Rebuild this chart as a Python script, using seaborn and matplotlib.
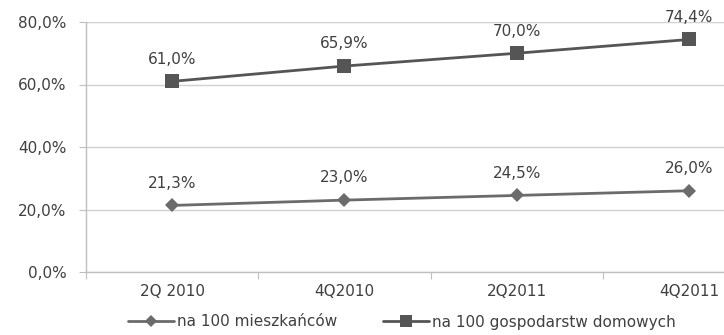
import seaborn as sns
import pandas as pd
import matplotlib.pyplot as plt

# dane
kwartaly = ["2Q 2010", "4Q2010", "2Q2011", "4Q2011"]
mieszkancy = [21.3, 23.0, 24.5, 26.0]
gospodarstwa = [61.0, 65.9, 70.0, 74.4]
seria_1 = "na 100 mieszkańców"
seria_2 = "na 100 gospodarstw domowych"

df = pd.DataFrame({
    "kwartal": kwartaly * 2,
    "wartosc": mieszkancy + gospodarstwa,
    "seria": [seria_1] * 4 + [seria_2] * 4,
})
df["poz"] = list(range(4)) * 2

sns.set_style("white")
plt.rcParams["font.family"] = ["DejaVu Sans"]
tekst = "#404040"
fs = 11

fig = plt.figure(figsize=(7.24, 3.35), dpi=100)
ax = fig.add_axes([86 / 724, 63 / 335, 689 / 724, 250 / 335])

sns.lineplot(
    data=df, x="poz", y="wartosc", hue="seria", style="seria",
    markers={seria_1: "D", seria_2: "s"}, dashes=False,
    palette={seria_1: "#6b6b6b", seria_2: "#555555"},
    linewidth=2, markersize=10, markeredgewidth=0, ax=ax, legend=True,
)
# romb nieco mniejszy
for line in ax.lines:
    if line.get_marker() == "D":
        line.set_markersize(7.5)

for s in [mieszkancy, gospodarstwa]:
    for i, v in enumerate(s):
        ax.annotate(f"{v:.1f}%".replace(".", ","), (i, v), xytext=(0, 16),
                    textcoords="offset points", ha="center", va="center",
                    fontsize=fs, color=tekst)

ax.set_ylim(0, 80)
ax.set_yticks([0, 20, 40, 60, 80])
ax.set_yticklabels([f"{v:.1f}%".replace(".", ",") for v in [0, 20, 40, 60, 80]],
                   fontsize=fs, color=tekst)
ax.set_xlim(-0.5, 3.5)
ax.set_xticks([-0.5, 0.5, 1.5, 2.5, 3.5])
ax.set_xticklabels([])
ax.set_xticks(range(4), minor=True)
ax.set_xticklabels(kwartaly, minor=True, fontsize=fs, color=tekst)
ax.tick_params(axis="x", which="major", length=5, color="#bfbfbf", direction="out", bottom=True)
ax.tick_params(axis="x", which="minor", length=0, pad=9)
ax.tick_params(axis="y", length=5, color="#bfbfbf", direction="out", left=True, pad=9)

ax.yaxis.grid(True, color="#d0d0d0", linewidth=1)
ax.set_axisbelow(True)
for k in ["top", "right"]:
    ax.spines[k].set_visible(False)
for k in ["left", "bottom"]:
    ax.spines[k].set_color("#bfbfbf")
    ax.spines[k].set_linewidth(1)
ax.set_xlabel("")
ax.set_ylabel("")

h, l = ax.get_legend_handles_labels()
ax.get_legend().remove()
fig.legend(h, l, loc="center", bbox_to_anchor=(0.555, 13 / 335), ncol=2,
           frameon=False, fontsize=fs, labelcolor=tekst, handlelength=3,
           handletextpad=0.2, columnspacing=3, markerscale=0.8)

fig.savefig("out.png", dpi=100)
